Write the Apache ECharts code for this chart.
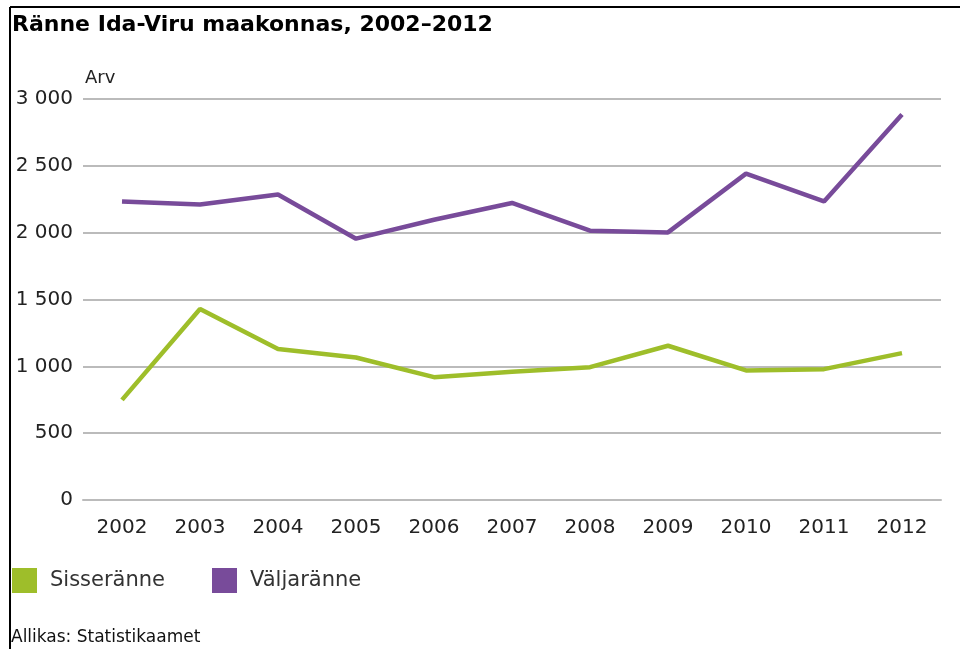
<!DOCTYPE html>
<html>
<head>
<meta charset="utf-8">
<script src="https://cdn.jsdelivr.net/npm/echarts@6/dist/echarts.min.js"></script>
<style>
  html, body { margin: 0; padding: 0; background: #fff; }
  #main { width: 960px; height: 649px; }
</style>
</head>
<body>
<div id="main"></div>
<script>
// andmed
const years = ['2002', '2003', '2004', '2005', '2006', '2007', '2008', '2009', '2010', '2011', '2012'];
const sisseranne = [749, 1429, 1129, 1066, 919, 959, 994, 1154, 969, 979, 1099];
const valjaranne = [2234, 2210, 2285, 1955, 2097, 2222, 2015, 2002, 2442, 2234, 2884];
const seriesNames = ['Sisseränne', 'Väljaränne'];
const colors = ['#9ebe2a', '#784b9a'];

const font = 'DejaVu Sans';
const chart = echarts.init(document.getElementById('main'), null, { renderer: 'canvas' });

const option = {
  animation: false,
  backgroundColor: '#fff',
  textStyle: { fontFamily: font },
  grid: {
    left: 83,
    right: 19,
    top: 99,
    bottom: 149
  },
  legend: {
    left: 12,
    top: 568,
    padding: 0,
    icon: 'rect',
    itemWidth: 25,
    itemHeight: 25,
    itemGap: 47,
    data: seriesNames,
    textStyle: {
      fontFamily: font,
      fontSize: 21,
      color: '#333',
      padding: [0, 0, 0, 8]
    }
  },
  xAxis: {
    type: 'category',
    data: years,
    boundaryGap: true,
    axisLine: { lineStyle: { color: '#bbb', width: 2 } },
    axisTick: { inside: true, length: 4, lineStyle: { color: '#bbb', width: 1 } },
    axisLabel: { margin: 18, fontSize: 20, color: '#222', fontFamily: font }
  },
  yAxis: {
    type: 'value',
    min: 0,
    max: 3000,
    interval: 500,
    axisLine: { show: false },
    axisTick: { show: false },
    axisLabel: {
      margin: 10,
      fontSize: 20,
      color: '#222',
      fontFamily: font,
      formatter: function (v) {
        return String(v).replace(/\B(?=(\d{3})+(?!\d))/g, ' ');
      }
    },
    splitLine: { lineStyle: { color: '#bbb', width: 2 } }
  },
  series: [
    {
      name: seriesNames[0],
      type: 'line',
      data: sisseranne,
      symbol: 'none',
      color: colors[0],
      lineStyle: { width: 4.5, color: colors[0] }
    },
    {
      name: seriesNames[1],
      type: 'line',
      data: valjaranne,
      symbol: 'none',
      color: colors[1],
      lineStyle: { width: 4.5, color: colors[1] }
    }
  ],
  graphic: [
    // raam
    { type: 'line', shape: { x1: 10, y1: 7, x2: 960, y2: 7 }, style: { stroke: '#000', lineWidth: 2 } },
    { type: 'line', shape: { x1: 10, y1: 7, x2: 10, y2: 649 }, style: { stroke: '#000', lineWidth: 2 } },
    {
      type: 'text', left: 12, top: 14,
      style: { text: 'Ränne Ida-Viru maakonnas, 2002–2012', font: 'bold 22px "DejaVu Sans"', fill: '#000' }
    },
    {
      type: 'text', left: 85, top: 69,
      style: { text: 'Arv', font: '18px "DejaVu Sans"', fill: '#222' }
    },
    {
      type: 'text', left: 11, top: 629,
      style: { text: 'Allikas: Statistikaamet', font: '17px "DejaVu Sans"', fill: '#111' }
    }
  ]
};

chart.setOption(option);
</script>
</body>
</html>
